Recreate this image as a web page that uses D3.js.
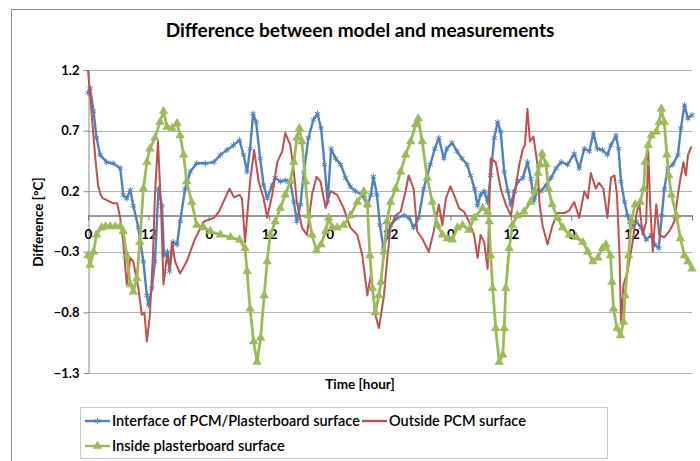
<!DOCTYPE html>
<html><head><meta charset="utf-8">
<script src="https://cdn.jsdelivr.net/npm/d3@7/dist/d3.min.js"></script>
<style>body{margin:0;background:#fff}svg{display:block}text{font-family:Lato,"Open Sans",sans-serif}</style>
</head><body>
<svg id="c" width="700" height="461"></svg>
<script>
const titleText = "Difference between model and measurements";
const xTitle = "Time [hour]";
const yTitle = "Difference [°C]";
const yTicks = [-1.3, -0.8, -0.3, 0.2, 0.7, 1.2];
const xTickHours = [0, 12, 24, 36, 48, 60, 72, 84, 96, 108, 120];
const xTickLabels = ["0", "12", "0", "12", "0", "12", "0", "12", "0", "12", ""];
const seriesNames = ["Interface of PCM/Plasterboard surface", "Outside PCM surface", "Inside plasterboard surface"];

const blueH = [0,0.4,1.1,1.7,2.4,3.7,5,6.4,7,7.7,8.4,9,10,11,11.7,12,12.7,13.3,14,14.7,15.1,15.8,16.2,16.9,17.7,18.3,19.3,20.3,21.6,23.3,25,26.3,27.6,28.9,30.1,30.9,31.6,32.2,32.8,33.4,34.2,34.9,35.6,36.6,37.2,38.2,39.2,40.2,40.9,41.5,42.2,42.9,43.8,44.8,45.6,46.3,47,47.6,48.3,49.2,50.2,51.2,52.1,53.1,54.5,55.5,56.2,56.7,57.4,58,58.7,59.4,60.1,61.4,62.8,63.8,64.7,65.7,66.7,68,68.9,69.7,70.7,71.3,72.3,73.3,74.3,75.3,76,76.8,77.4,78,78.7,79.4,80,80.7,81.4,82,82.7,83.4,84,84.7,85.4,86.4,87.3,88,88.6,89.3,90,91,92,93,94,95.3,96.6,97.6,98.6,99.6,100.4,101.2,102.2,103.2,103.9,104.9,105.4,105.9,106.6,107.2,107.9,108.9,109.9,110.9,111.9,112.6,113.4,114,114.5,115.2,116.2,117.2,117.8,118.5,119.2,120];
const blueV = [1.01,1.05,0.86,0.64,0.5,0.44,0.43,0.39,0.17,0.14,0.21,0.08,-0.1,-0.38,-0.66,-0.74,-0.6,-0.38,0.22,0.08,-0.33,-0.3,-0.46,-0.22,-0.24,-0.05,0.22,0.36,0.43,0.43,0.44,0.5,0.54,0.58,0.62,0.5,0.36,0.55,0.84,0.77,0.47,0.25,0.14,0.25,0.31,0.28,0.29,0.28,0.11,-0.05,0.09,0.36,0.64,0.79,0.84,0.72,0.42,0.11,0.55,0.47,0.42,0.31,0.24,0.2,0.17,0.08,0.17,0.32,0.17,-0.08,-0.27,-0.18,-0.08,-0.02,0.0,-0.02,-0.1,-0.02,0.22,0.42,0.55,0.64,0.47,0.55,0.6,0.53,0.47,0.42,0.33,0.22,0.08,0.17,0.2,0.11,0.33,0.64,0.77,0.69,0.36,0.2,0.09,0.2,0.28,0.31,0.44,0.3,0.12,0.2,0.2,0.25,0.31,0.39,0.44,0.42,0.51,0.39,0.55,0.53,0.68,0.55,0.54,0.5,0.58,0.66,0.55,0.28,0.11,0.0,-0.1,-0.05,-0.1,-0.2,-0.16,-0.24,-0.27,0.0,0.22,0.39,0.42,0.5,0.72,0.91,0.8,0.83];

const redH = [0,0.5,1,1.5,2,2.5,3,4,5,5.8,6.4,7,7.7,8.4,9,10,10.7,11.2,11.7,12.3,12.9,13.3,13.9,14.5,15,15.7,16.2,16.7,17.3,18.3,19.6,21.3,23,25,26,27,28.1,29,30.1,30.6,31.2,32.2,33,33.9,34.9,35.6,36.6,37.6,38.6,39.2,40.2,40.9,41.5,42.5,43.5,44.5,45.4,46.2,47.2,48.2,49.5,50.8,52.1,53.5,54.5,55.5,56.2,57.1,57.8,58.8,59.4,60.1,61.1,62.1,63.1,63.7,64.7,65.4,66.4,67.7,68.7,69.7,70.4,71.1,72,73,73.7,74.7,75.7,76.7,77.4,78,78.7,79.4,79.7,80,81,82,83,84,84.7,85.7,86.4,86.8,87.3,87.8,88.5,89.3,89.7,90.3,91.3,92.3,93.3,94.6,95.6,96.6,97.6,98.6,99.3,99.9,100.9,101.5,102.4,103.2,103.9,104.6,105.1,105.6,105.9,106.4,107.2,108.2,108.9,109.5,110.2,110.9,111.3,111.7,112.2,112.9,113.5,114.5,115.5,116.5,117.2,117.8,118.3,118.8,119.2,119.9];
const redV = [1.2,0.95,0.7,0.45,0.25,0.17,0.14,0.12,0.1,0.1,-0.02,-0.22,-0.57,-0.35,-0.38,-0.6,-0.82,-0.8,-1.04,-0.82,-0.33,0.17,0.61,0.08,-0.57,-0.33,-0.43,-0.22,-0.38,-0.48,-0.38,-0.19,-0.05,-0.02,0.03,0.12,0.22,0.15,0.17,0.14,-0.22,0.28,0.54,0.28,0.14,-0.02,0.17,0.44,0.53,0.68,0.58,0.36,0.11,-0.1,-0.16,0.17,0.32,0.28,0.06,0.2,0.17,0.06,-0.1,-0.16,-0.33,-0.66,-0.49,-0.82,-0.93,-0.66,-0.38,-0.1,0.0,0.03,0.2,0.33,0.22,-0.13,-0.19,-0.3,-0.13,0.09,-0.08,0.14,0.24,0.14,0.06,0.03,-0.05,-0.16,-0.35,-0.16,-0.22,-0.44,0.03,0.47,0.44,0.22,0.09,0.0,0.17,0.42,0.55,0.58,0.88,0.61,0.65,0.42,0.1,-0.08,-0.24,-0.08,0.02,0.02,0.04,0.11,-0.02,0.2,0.14,0.35,0.22,0.27,0.22,-0.02,0.31,0.33,0.17,-0.33,-0.88,-0.57,-0.46,-0.22,0.0,0.11,-0.16,-0.05,0.53,0.09,-0.3,0.09,-0.16,-0.18,-0.13,-0.05,0.17,0.33,0.44,0.33,0.5,0.57];

const greenH = [0,0.4,1.1,1.7,2.7,3.5,4.4,5.4,6.4,7,7.7,8.4,9,9.7,10.3,11,11.7,12.3,13.3,14.3,15,15.7,16.7,17.7,18.3,19,19.6,20.6,21.6,23,24.3,26.3,28.3,30.1,31.2,31.6,32.2,32.9,33.6,34.3,35,35.6,36.2,37.2,38.2,39.2,40.2,40.9,41.5,42,42.5,43.2,43.8,44.5,45.4,46.3,47.2,47.8,48.5,49.5,50.8,52.1,53.5,54.8,55.5,56,56.5,57.1,57.8,58.2,58.8,59.4,60.1,61.1,62.1,63.1,64.1,65.1,65.6,66.4,67.4,68.4,69.4,70.4,71.4,72.4,73.4,74.4,75.7,76.7,78.4,79.4,79.7,80,80.4,81,81.7,82.4,82.7,83,83.7,84.3,85.3,86.6,87.9,88.7,89.4,89.8,90.2,91,91.5,92.2,93.3,94.3,95.6,97,98.3,99.3,100.3,101.3,102.2,102.9,103.8,104.1,104.4,105.1,105.8,106.4,106.7,107.4,107.9,108.7,109.7,110.4,110.7,111.3,111.9,112.9,113.5,113.9,114.5,115,115.4,115.9,116.9,117.7,118.5,119.2,120];
const greenV = [-0.33,-0.41,-0.3,-0.16,-0.1,-0.09,-0.09,-0.09,-0.09,-0.13,-0.33,-0.57,-0.63,-0.52,-0.22,0.22,0.44,0.55,0.64,0.77,0.86,0.73,0.72,0.76,0.66,0.5,0.28,0.11,-0.08,-0.1,-0.13,-0.16,-0.18,-0.2,-0.27,-0.46,-0.77,-1.04,-1.21,-1.01,-0.66,-0.38,-0.16,-0.05,0.06,0.17,0.28,0.44,0.64,0.72,0.61,0.28,0.0,-0.16,-0.29,-0.24,-0.13,-0.02,-0.1,-0.1,-0.08,0.0,0.11,0.2,0.09,-0.33,-0.6,-0.8,-0.66,-0.55,-0.3,-0.05,0.11,0.22,0.36,0.5,0.61,0.75,0.8,0.61,0.31,0.11,-0.08,-0.16,-0.19,-0.2,-0.1,-0.08,-0.12,-0.02,0.06,0.03,-0.05,-0.33,-0.6,-0.93,-1.21,-1.15,-0.93,-0.6,-0.27,-0.08,0.0,0.03,0.11,0.2,0.35,0.42,0.51,0.42,0.22,0.09,-0.02,-0.1,-0.16,-0.18,-0.22,-0.3,-0.38,-0.35,-0.27,-0.24,-0.33,-0.55,-0.77,-0.93,-0.99,-0.88,-0.66,-0.33,-0.05,0.09,0.11,0.22,0.44,0.58,0.66,0.69,0.77,0.88,0.77,0.5,0.33,0.17,0.0,-0.19,-0.33,-0.38,-0.44];

const colors = ["#4F81BD", "#C0504D", "#9BBB59"];

const svg = d3.select("#c");
svg.append("rect").attr("x", 11.5).attr("y", 9.5).attr("width", 720).attr("height", 480)
  .attr("fill", "#fff").attr("stroke", "#8c8c8c").attr("stroke-width", 1);

const x = d3.scaleLinear().domain([0, 120]).range([88, 692]);
const y = d3.scaleLinear().domain([-1.3, 1.2]).range([373, 70]);

// gridlines
svg.append("g").selectAll("line").data(yTicks).join("line")
  .attr("x1", 88).attr("x2", 692).attr("y1", d => Math.round(y(d)) + 0.5).attr("y2", d => Math.round(y(d)) + 0.5)
  .attr("stroke", "#b3b3b3").attr("stroke-width", 1);

// y axis
const yAxis = d3.axisLeft(y).tickValues(yTicks).tickFormat(d3.format(".1f")).tickSize(5).tickSizeOuter(0);
const gy = svg.append("g").attr("transform", "translate(88.5,0)").call(yAxis);
gy.select(".domain").attr("stroke", "#888");
gy.selectAll(".tick line").attr("stroke", "#888");
gy.selectAll(".tick text").attr("font-size", 13).attr("font-weight", "bold").attr("fill", "#000")
  .attr("font-family", "Lato, sans-serif").attr("x", -9);

// x axis at zero
const xAxis = d3.axisBottom(x).tickValues(xTickHours).tickFormat((d, i) => xTickLabels[i]).tickSize(5).tickSizeOuter(0);
const gx = svg.append("g").attr("transform", `translate(0,${Math.round(y(0)) + 0.5})`).call(xAxis);
gx.select(".domain").attr("stroke", "#777").attr("stroke-width", 1.3);
gx.selectAll(".tick line").attr("stroke", "#777");
gx.selectAll(".tick text").attr("font-size", 13.5).attr("font-weight", "bold").attr("fill", "#000")
  .attr("font-family", "Lato, sans-serif").attr("y", 14);

function drawSeries(H, V, color, width, sym, symSize, filled) {
  const pts = H.map((h, i) => [h, V[i]]);
  const line = d3.line().x(d => x(d[0])).y(d => y(d[1]));
  const g = svg.append("g");
  g.append("path").datum(pts).attr("d", line).attr("fill", "none").attr("stroke", color)
    .attr("stroke-width", width).attr("stroke-linejoin", "round");
  if (sym) {
    const s = d3.symbol().type(sym).size(symSize);
    g.selectAll("path.m").data(pts).join("path").attr("class", "m")
      .attr("transform", d => `translate(${x(d[0])},${y(d[1])})`).attr("d", s)
      .attr("fill", filled ? color : "none").attr("stroke", color).attr("stroke-width", filled ? 0.5 : 1);
  }
}
drawSeries(blueH, blueV, colors[0], 2.4, d3.symbolAsterisk, 26, false);
drawSeries(redH, redV, colors[1], 2, null);
drawSeries(greenH, greenV, colors[2], 2.8, d3.symbolTriangle, 32, true);

// titles
svg.append("text").attr("x", 360).attr("y", 37).attr("text-anchor", "middle")
  .attr("font-size", 19).attr("font-weight", "bold").text(titleText);
svg.append("text").attr("x", 360).attr("y", 389).attr("text-anchor", "middle")
  .attr("font-size", 13.5).attr("font-weight", "bold").text(xTitle);
svg.append("text").attr("transform", "translate(43,222) rotate(-90)").attr("text-anchor", "middle")
  .attr("font-size", 13.5).attr("font-weight", "bold").text(yTitle);

// legend
svg.append("rect").attr("x", 80.5).attr("y", 407.5).attr("width", 527).attr("height", 51)
  .attr("fill", "#fff").attr("stroke", "#c8c8c8");
const leg = [
  {i: 0, lx: 85, ly: 421, sym: d3.symbolAsterisk, filled: false},
  {i: 1, lx: 362, ly: 421, sym: null},
  {i: 2, lx: 85, ly: 446, sym: d3.symbolTriangle, filled: true}
];
leg.forEach(L => {
  const c = colors[L.i];
  svg.append("line").attr("x1", L.lx).attr("x2", L.lx + 25).attr("y1", L.ly).attr("y2", L.ly)
    .attr("stroke", c).attr("stroke-width", 2.4);
  if (L.sym) {
    svg.append("path").attr("transform", `translate(${L.lx + 12.5},${L.ly})`)
      .attr("d", d3.symbol().type(L.sym).size(L.filled ? 32 : 26))
      .attr("fill", L.filled ? c : "none").attr("stroke", c).attr("stroke-width", L.filled ? 0.5 : 1);
  }
  svg.append("text").attr("x", L.lx + 27).attr("y", L.ly + 5).attr("font-size", 14.5)
    .attr("font-weight", "600").text(seriesNames[L.i]);
});
</script>
</body></html>
